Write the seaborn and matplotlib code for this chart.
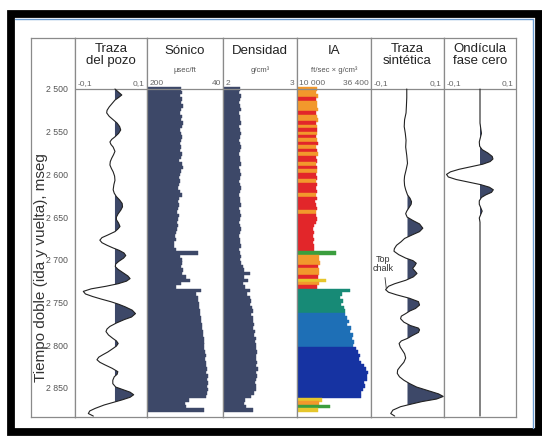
import numpy as np
import matplotlib
matplotlib.use("Agg")
import matplotlib.pyplot as plt
from matplotlib import font_manager
from matplotlib.patches import Rectangle
from matplotlib.lines import Line2D
import seaborn as sns

# ---- datos ----
# Traza del pozo (tiempo ms, amplitud)
pozo_t = [2500, 2503, 2507, 2510, 2513, 2517, 2521, 2525, 2528, 2532, 2536, 2540, 2544, 2548,
          2552, 2556, 2559, 2562, 2565, 2568, 2573, 2577, 2581, 2585, 2589, 2593, 2597, 2602,
          2607, 2612, 2618, 2622, 2626, 2630, 2634, 2638, 2642, 2646, 2650, 2653, 2657, 2661,
          2664, 2667, 2671, 2674, 2677, 2680, 2683, 2686, 2689, 2692, 2695, 2698, 2702, 2705,
          2708, 2711, 2715, 2719, 2722, 2725, 2728, 2731, 2734, 2737, 2740, 2743, 2746, 2749,
          2752, 2755, 2759, 2763, 2767, 2770, 2774, 2778, 2781, 2784, 2788, 2792, 2795, 2798,
          2801, 2804, 2808, 2811, 2814, 2817, 2820, 2823, 2827, 2831, 2834, 2837, 2841, 2845,
          2849, 2852, 2855, 2858, 2861, 2864, 2867, 2870, 2874, 2877, 2880, 2883]
pozo_amp = [0.000, 0.008, 0.019, 0.010, 0.000, -0.008, -0.016, -0.022, -0.023, -0.016, -0.005,
            0.006, 0.013, 0.016, 0.010, 0.000, -0.009, -0.014, -0.011, -0.005, 0.000, -0.004,
            -0.009, -0.013, -0.014, -0.010, -0.005, -0.001, 0.000, -0.003, -0.005, -0.002,
            0.004, 0.013, 0.020, 0.021, 0.016, 0.009, 0.004, 0.004, 0.010, 0.014, 0.008, 0.000,
            -0.020, -0.036, -0.042, -0.036, -0.022, -0.006, 0.012, 0.025, 0.030, 0.024, 0.010,
            0.002, 0.001, 0.008, 0.022, 0.036, 0.042, 0.032, 0.009, -0.025, -0.066, -0.088,
            -0.082, -0.062, -0.038, -0.012, 0.010, 0.028, 0.048, 0.057, 0.046, 0.026, 0.004,
            -0.014, -0.022, -0.025, -0.018, -0.006, 0.004, 0.009, 0.004, -0.006, -0.020, -0.033,
            -0.045, -0.050, -0.042, -0.028, -0.008, 0.008, 0.006, -0.002, -0.006, -0.006, 0.002,
            0.022, 0.042, 0.052, 0.042, 0.020, -0.005, -0.030, -0.055, -0.070, -0.074, -0.060]

# Traza sintetica
sint_t = [2500, 2510, 2520, 2528, 2536, 2544, 2552, 2560, 2568, 2578, 2587, 2595, 2602, 2607,
          2613, 2618, 2624, 2628, 2632, 2635, 2639, 2643, 2646, 2650, 2654, 2658, 2663, 2667,
          2671, 2675, 2679, 2683, 2687, 2690, 2694, 2698, 2701, 2704, 2707, 2710, 2713, 2716,
          2720, 2724, 2728, 2731, 2735, 2738, 2741, 2745, 2749, 2753, 2757, 2760, 2763, 2766,
          2769, 2773, 2777, 2780, 2782, 2785, 2789, 2792, 2795, 2798, 2802, 2806, 2810, 2815,
          2820, 2825, 2829, 2833, 2837, 2841, 2845, 2849, 2853, 2857, 2860, 2863, 2866, 2869,
          2872, 2876, 2880, 2883]
sint_amp = [-0.002, -0.002, -0.003, -0.004, -0.008, -0.009, -0.006, -0.004, -0.005, -0.002,
            0.000, -0.004, -0.008, -0.009, -0.008, -0.005, 0.000, 0.007, 0.011, 0.010, 0.004,
            -0.002, -0.005, -0.001, 0.015, 0.033, 0.042, 0.033, 0.012, -0.008, -0.018, -0.030,
            -0.036, -0.037, -0.024, -0.005, 0.015, 0.024, 0.020, 0.014, 0.020, 0.026, 0.016,
            -0.005, -0.035, -0.052, -0.060, -0.052, -0.030, 0.005, 0.030, 0.033, 0.022, 0.006,
            -0.005, -0.017, -0.019, -0.010, 0.008, 0.030, 0.033, 0.030, 0.012, 0.000, -0.017,
            -0.023, -0.020, -0.014, -0.008, -0.005, -0.010, -0.020, -0.027, -0.028, -0.022,
            -0.010, 0.006, 0.025, 0.055, 0.085, 0.098, 0.080, 0.040, 0.010, -0.019, -0.040,
            -0.046, -0.035]

# Ondicula fase cero
ond_t = [2500, 2540, 2546, 2552, 2557, 2562, 2567, 2571, 2575, 2579, 2582, 2585, 2588, 2591,
         2594, 2597, 2600, 2603, 2606, 2609, 2612, 2615, 2618, 2621, 2624, 2627, 2631, 2635,
         2639, 2643, 2647, 2651, 2656, 2883]
ond_amp = [0.0, 0.0, 0.002, 0.004, 0.001, -0.002, -0.001, 0.006, 0.022, 0.034, 0.036, 0.028,
           0.008, -0.025, -0.058, -0.082, -0.093, -0.088, -0.066, -0.032, 0.002, 0.026, 0.037,
           0.032, 0.016, 0.004, -0.002, -0.002, 0.002, 0.006, 0.002, -0.002, 0.0, 0.0]

# Registros muestreados cada 4 ms desde 2500 ms
log_t0, log_dt = 2500, 4
sonico = [128, 126, 130, 127, 129, 125, 128, 131, 127, 129, 124, 127, 130, 128, 126, 129, 131,
          128, 130, 127, 129, 132, 126, 124, 129, 131, 133, 130, 132, 134, 131, 126, 133, 135,
          132, 134, 136, 133, 135, 137, 134, 136, 138, 141, 140,
          143, 144, 138, 92, 130, 127, 126, 128, 125, 127, 118, 110, 128, 138, 86, 96, 93, 92,
          90, 91, 88, 89, 86, 87, 84, 85, 82, 83, 80, 81, 79, 80, 78, 76, 78, 75, 76, 73, 75,
          72, 74, 72, 73, 71, 74, 76, 112, 120, 118, 80]
densidad = [2.23, 2.22, 2.24, 2.23, 2.22, 2.23, 2.24, 2.22, 2.23, 2.23, 2.24, 2.22, 2.23, 2.24,
            2.23, 2.22, 2.23, 2.24, 2.23, 2.22, 2.23, 2.23, 2.24, 2.22, 2.23, 2.24, 2.23, 2.22,
            2.23, 2.24, 2.23, 2.22, 2.23, 2.23, 2.24, 2.22, 2.23, 2.24, 2.23, 2.22, 2.23, 2.24,
            2.23, 2.22, 2.23, 2.23, 2.24, 2.22, 2.23, 2.24, 2.23, 2.24,
            2.27, 2.29, 2.36, 2.28, 2.34, 2.27, 2.30, 2.36, 2.33, 2.36, 2.38, 2.37, 2.39, 2.40,
            2.38, 2.41, 2.40, 2.42, 2.41, 2.43, 2.42, 2.44, 2.43, 2.45, 2.44, 2.46, 2.45, 2.44,
            2.46, 2.45, 2.47, 2.44, 2.46, 2.45, 2.43, 2.45, 2.44, 2.42, 2.38, 2.30, 2.29, 2.31,
            2.40]
ia = [17200, 16800, 17500, 16900, 17300, 17000, 17600, 16800, 17200, 17400, 16900, 17100,
      17000, 17300, 16700, 17100, 17400, 16900, 17200, 17500, 16800, 17100, 16900, 17300,
      17000, 16600, 17200, 16900, 17100,
      16800, 17200, 16700, 17000, 16500, 16900, 17300, 16800, 16600, 17000, 16700, 16000,
      15800, 16200, 15700, 16000, 15600, 16100, 15900,
      24000, 18000, 17800, 18200, 17600, 18000, 17800, 17500, 20500, 18000, 17200,
      28900, 26000, 25500, 26400, 25800, 26800, 27200, 27000, 27800, 28500, 28000, 29200,
      28800, 30000, 29500, 30500, 29800, 31000, 31800, 32500, 32000, 33000, 33800, 34500,
      35200, 34800, 35000, 33800, 34200, 33500, 33000, 32800, 18800, 18000, 21800, 17500]
ia_clase = ("OOOROOOROORO"
            "RORORORORRORORROR"
            "RRORRRRORRRRRRRRRRR"
            "GOOOROORYOR"
            "TTTTTTTBBBBBBBBBBNNNNNNNNNNNNNNNYOGY")
ia_colores = {"O": "#f2982c", "R": "#e2262a", "G": "#3b9e3e", "Y": "#e6c62c",
              "T": "#178a76", "B": "#1e6fb6", "N": "#1633a2"}

ticks_t = [2500, 2550, 2600, 2650, 2700, 2750, 2800, 2850]
ticks_lbl = ["2 500", "2 550", "2 600", "2 650", "2 700", "2 750", "2 800", "2 850"]

pistas = [
    ("Traza\ndel pozo", None, ("-0,1", "0,1")),
    ("Sónico", "µsec/ft", ("200", "40")),
    ("Densidad", "g/cm³", ("2", "3")),
    ("IA", "ft/sec × g/cm³", ("10 000", "36 400")),
    ("Traza\nsintética", None, ("-0,1", "0,1")),
    ("Ondícula\nfase cero", None, ("-0,1", "0,1")),
]

# ---- estilo ----
sns.set_theme(style="white")
fuentes = {f.name for f in font_manager.fontManager.ttflist}
base = "Liberation Sans Narrow" if "Liberation Sans Narrow" in fuentes else "Liberation Sans"
plt.rcParams["font.family"] = [base, "DejaVu Sans"]

W, H = 542, 437
top_px, line_px, bot_px = 38, 89, 417
px_ms = 0.854
t_top = 2500 - (line_px - top_px) / px_ms
t_bot = 2500 + (bot_px - line_px) / px_ms

fig = plt.figure(figsize=(W / 100, H / 100), dpi=100)
fig.patch.set_facecolor("white")

def px_axes(x0, x1):
    return fig.add_axes([x0 / W, 1 - bot_px / H, (x1 - x0) / W, (bot_px - top_px) / H])

marco = "#8a8a8a"
ax0 = px_axes(31, 75)
ax0.set_xticks([]); ax0.set_yticks([])
for s in ax0.spines.values():
    s.set_color(marco); s.set_linewidth(0.9)

bordes = [75, 147, 223, 297, 371, 444, 516]
axes = []
for i, (titulo, unidad, lims) in enumerate(pistas):
    ax = px_axes(bordes[i], bordes[i + 1])
    ax.set_ylim(t_bot, t_top)
    ax.set_xticks([]); ax.set_yticks([])
    for s in ax.spines.values():
        s.set_color(marco); s.set_linewidth(0.9)
    ax.axhline(2500, color=marco, lw=0.9)
    tr = ax.get_yaxis_transform()
    if "\n" in titulo:
        ax.text(0.5, 2460, titulo, transform=tr, ha="center", va="center",
                fontsize=9.5, color="#222222", linespacing=0.95)
    else:
        ax.text(0.5, 2455, titulo, transform=tr, ha="center", va="center",
                fontsize=9.5, color="#222222")
    if unidad:
        ax.text(0.5, 2478, unidad, transform=tr, ha="center", va="center",
                fontsize=5.5, color="#555555")
    ax.text(0.03, 2494, lims[0], transform=tr, ha="left", va="center", fontsize=6, color="#666666")
    ax.text(0.97, 2494, lims[1], transform=tr, ha="right", va="center", fontsize=6, color="#666666")
    axes.append(ax)

relleno = "#3d4868"
linea = "#222222"

def traza(ax, t, amp):
    t = np.array(t); amp = np.array(amp)
    ax.fill_betweenx(t, 0, amp, where=amp > 0, interpolate=True, color=relleno, lw=0)
    sns.lineplot(x=amp, y=t, orient="y", sort=False, estimator=None, ax=ax,
                 color=linea, lw=0.8)
    ax.set_ylim(t_bot, t_top)
    ax.set_xticks([]); ax.set_yticks([])
    ax.set_xlabel(""); ax.set_ylabel("")

ax1, ax2, ax3, ax4, ax5, ax6 = axes
traza(ax1, pozo_t, pozo_amp)
ax1.set_xlim(-0.111, 0.089)
traza(ax5, sint_t, sint_amp)
ax5.set_xlim(-0.1, 0.1)
traza(ax6, ond_t, ond_amp)
ax6.set_xlim(-0.1, 0.1)

prof = log_t0 + log_dt * np.arange(len(sonico))
colores_ia = [ia_colores[c] for c in ia_clase]
alto = log_dt * 1.04
ax2.barh(prof, np.array(sonico) - 200, left=200, height=alto,
         color=relleno, edgecolor=relleno, lw=0.3)
ax2.set_xlim(200, 40)
ax3.barh(prof, np.array(densidad) - 2, left=2, height=alto,
         color=relleno, edgecolor=relleno, lw=0.3)
ax3.set_xlim(2, 3)
ax4.barh(prof, np.array(ia) - 10000, left=10000, height=alto,
         color=colores_ia, edgecolor=colores_ia, lw=0.3)
ax4.set_xlim(10000, 36400)

ax5.annotate("Top\nchalk", xy=(-0.058, 2734), xytext=(-0.066, 2705),
             ha="center", va="center", fontsize=6.5, color="#333333", linespacing=0.95,
             arrowprops=dict(arrowstyle="-", color="#333333", lw=0.6, shrinkA=1, shrinkB=0))

# eje de tiempo
ax1.set_yticks(ticks_t)
ax1.set_yticklabels(ticks_lbl)
ax1.tick_params(axis="y", length=0, pad=5, labelsize=6.3, labelcolor="#555555")
fig.text(41 / W, 1 - 268 / H, "Tiempo doble (ida y vuelta), mseg", rotation=90,
         ha="center", va="center", fontsize=11, color="#333333")

# marco negro exterior
fig.patches.append(Rectangle((10.5 / W, 1 - 431.5 / H), 528 / W, 417.5 / H,
                             transform=fig.transFigure, fill=False,
                             edgecolor="black", lw=5.6))
fig.lines.append(Line2D([14.5 / W, 533 / W], [1 - 19 / H, 1 - 19 / H],
                        transform=fig.transFigure, color="#6a9bd1", lw=1))
fig.lines.append(Line2D([533 / W, 533 / W], [1 - 19 / H, 1 - 428 / H],
                        transform=fig.transFigure, color="#6a9bd1", lw=1))

fig.savefig("out.png", dpi=100, facecolor="white")
